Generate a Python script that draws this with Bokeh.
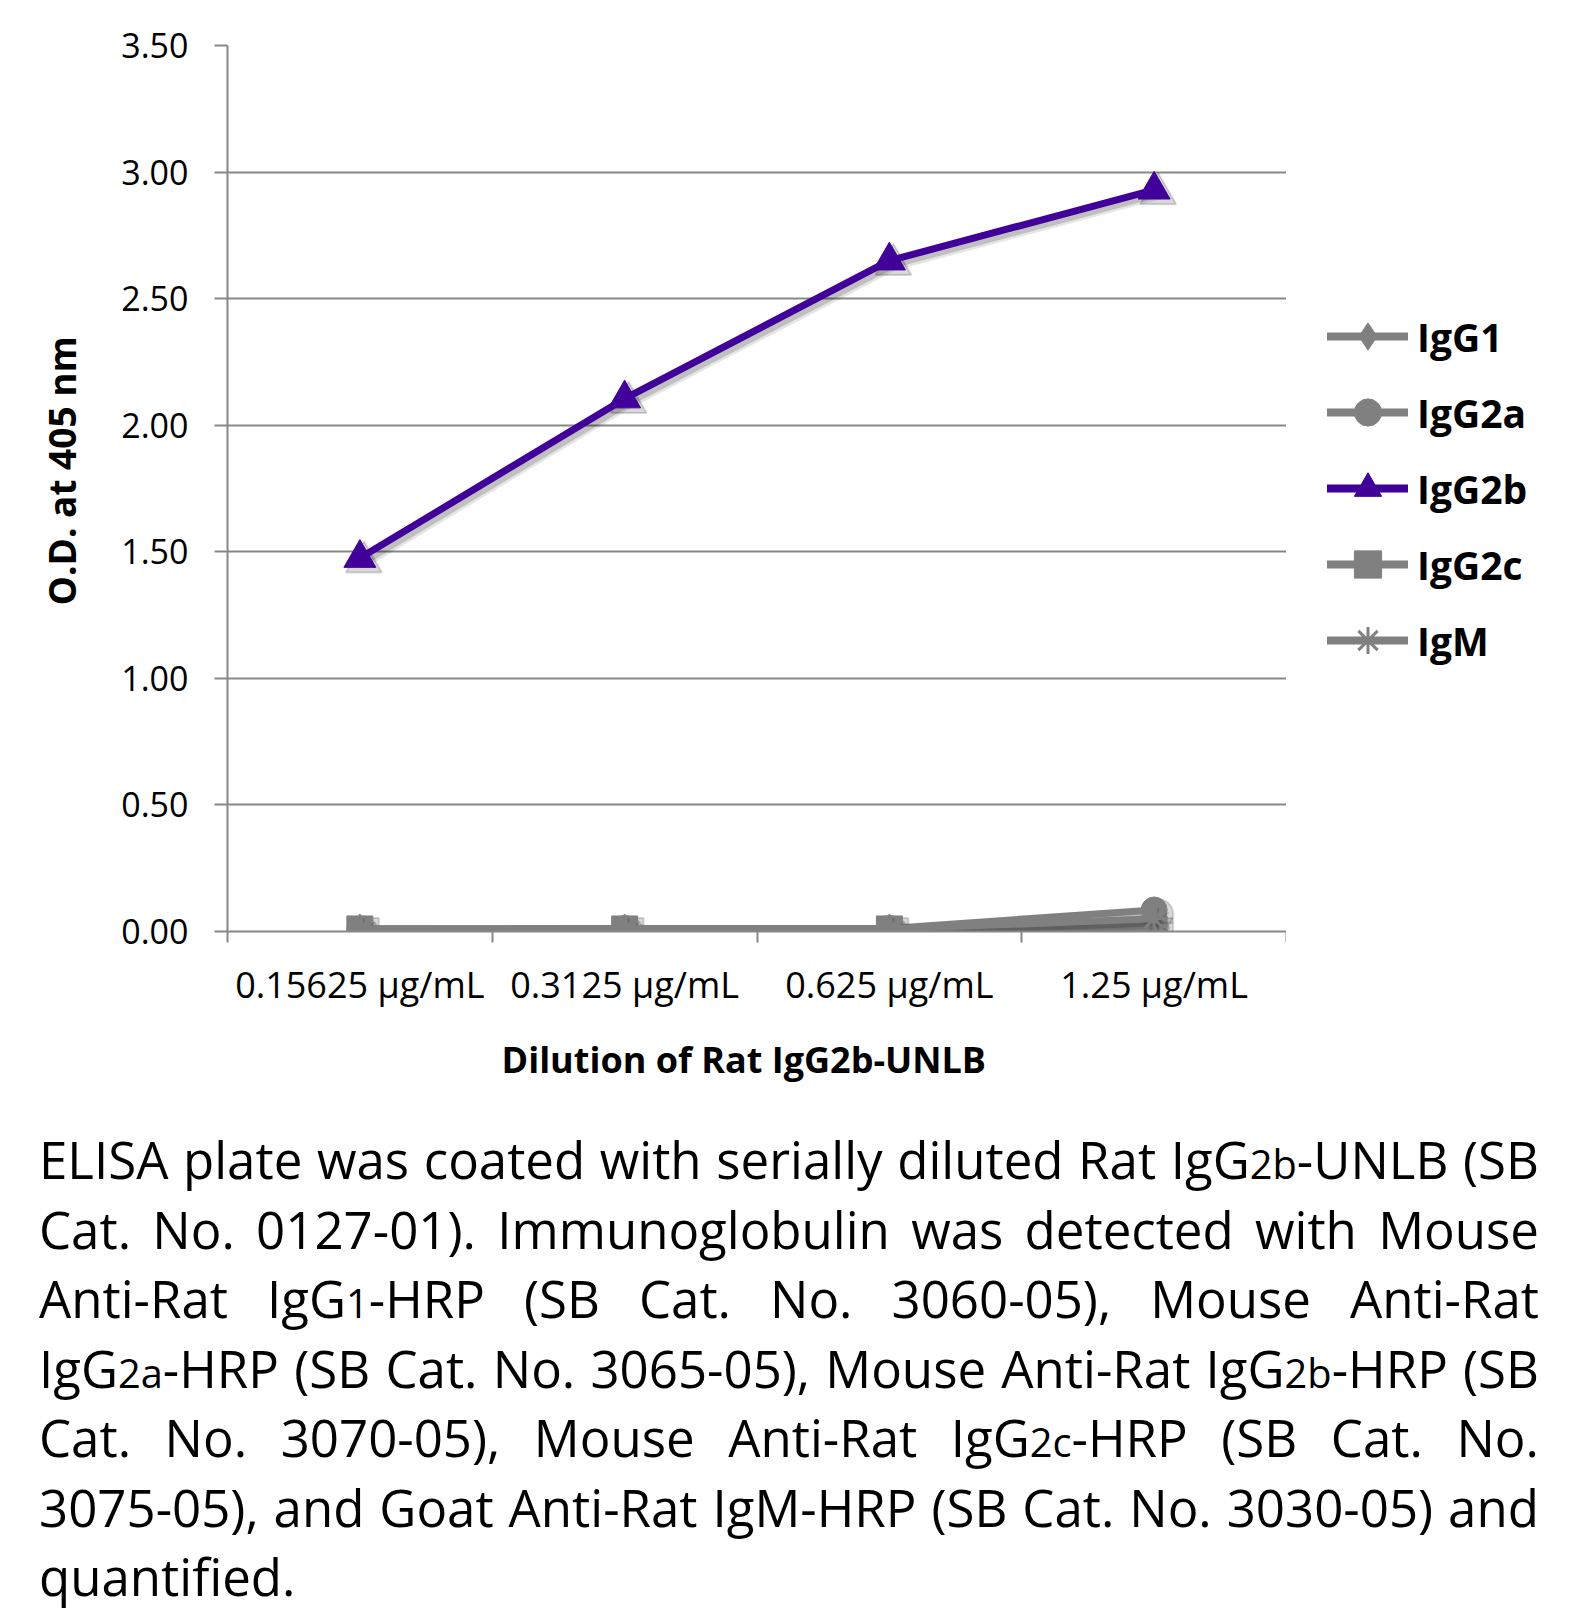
import re
import numpy as np
from bokeh.plotting import figure
from bokeh.models import (Range1d, FixedTicker, CustomJSTickFormatter, PrintfTickFormatter,
                          Legend, LegendItem, Div, Title)
from bokeh.layouts import column, row
from bokeh.embed import file_html
from bokeh.resources import INLINE

# ---------------- data ----------------
categories = ["0.15625 µg/mL", "0.3125 µg/mL", "0.625 µg/mL", "1.25 µg/mL"]
series_names = ["IgG1", "IgG2a", "IgG2b", "IgG2c", "IgM"]
igg1 = [0.010, 0.010, 0.010, 0.030]
igg2a = [0.010, 0.012, 0.012, 0.085]
igg2b = [1.475, 2.105, 2.650, 2.930]
igg2c = [0.010, 0.010, 0.010, 0.010]
igm = [0.010, 0.010, 0.010, 0.050]
y_ticks = [0.0, 0.5, 1.0, 1.5, 2.0, 2.5, 3.0, 3.5]

y_title = "O.D. at 405 nm"
x_title = "Dilution of Rat IgG2b-UNLB"
caption_lines = [
    "ELISA plate was coated with serially diluted Rat IgG[2b]-UNLB (SB",
    "Cat. No. 0127-01).  Immunoglobulin was detected with Mouse",
    "Anti-Rat IgG[1]-HRP (SB Cat. No. 3060-05), Mouse Anti-Rat",
    "IgG[2a]-HRP (SB Cat. No. 3065-05), Mouse Anti-Rat IgG[2b]-HRP (SB",
    "Cat. No. 3070-05), Mouse Anti-Rat IgG[2c]-HRP (SB Cat. No.",
    "3075-05), and Goat Anti-Rat IgM-HRP (SB Cat. No. 3030-05) and",
    "quantified.",
]

# ---------------- styles ----------------
GRAY = "#808080"
PURPLE = "#410099"
GRID = "#878787"
FONT = "Open Sans"

series_values = [igg1, igg2a, igg2b, igg2c, igm]
series_colors = [GRAY, GRAY, PURPLE, GRAY, GRAY]
series_markers = ["diamond", "circle", "triangle", "square", "asterisk"]
series_sizes = [30, 26, 32, 26, 26]

W, H = 1286, 1125
BL, BT, BB = 227, 45, 194
W2 = 301
frame_w = W - BL
frame_h = H - BT - BB

n = len(categories)
x = np.arange(n) + 0.5
ymax = y_ticks[-1]

p = figure(width=W, height=H, output_backend="svg", toolbar_location=None,
           x_range=Range1d(0, n), y_range=Range1d(0, ymax),
           min_border_left=BL, min_border_right=0, min_border_top=BT, min_border_bottom=BB)
p.outline_line_color = None
p.background_fill_color = "white"
p.border_fill_color = "white"

# shadow ranges (offset a few screen pixels down/right)
off = 4
dx = off * n / frame_w
dy = off * ymax / frame_h
p.extra_x_ranges = {"sx": Range1d(-dx, n - dx)}
p.extra_y_ranges = {"sy": Range1d(dy, ymax + dy)}

# legend panel figure
pl = figure(width=W2, height=H, output_backend="svg", toolbar_location=None,
            x_range=Range1d(0, 1), y_range=Range1d(0, 1), x_axis_type=None, y_axis_type=None,
            min_border_left=41, min_border_right=0, min_border_top=BT, min_border_bottom=BB)
pl.outline_line_color = None
pl.grid.visible = False
pl.background_fill_color = "white"
pl.border_fill_color = "white"

items = []
for name, vals, col, mk, sz in zip(series_names, series_values, series_colors, series_markers, series_sizes):
    p.line(x, vals, x_range_name="sx", y_range_name="sy", line_color="black",
           line_alpha=0.10, line_width=12, line_join="round", line_cap="round")
    p.line(x, vals, x_range_name="sx", y_range_name="sy", line_color="black",
           line_alpha=0.16, line_width=7, line_join="round", line_cap="round")
    p.scatter(x, vals, x_range_name="sx", y_range_name="sy", marker=mk, size=sz + 4,
              fill_color="black", fill_alpha=0.15, line_color="black", line_alpha=0.15, line_width=2)
    p.line(x, vals, line_color=col, line_width=7, line_join="round", line_cap="round")
    p.scatter(x, vals, marker=mk, size=sz, fill_color=col, line_color=col,
              line_width=3 if mk == "asterisk" else 1)
    # legend keys (same styles, no visible data)
    lr = pl.line([np.nan], [np.nan], line_color=col, line_width=8, line_cap="round")
    sr = pl.scatter([np.nan], [np.nan], marker=mk, size=sz, fill_color=col, line_color=col,
                    line_width=3 if mk == "asterisk" else 1)
    items.append(LegendItem(label=name, renderers=[lr, sr]))

legend = Legend(items=items, location="center_left", orientation="vertical",
                glyph_width=81, glyph_height=68, spacing=8, label_standoff=9,
                padding=42, margin=0, border_line_color=None, background_fill_alpha=0,
                label_text_font=FONT, label_text_font_style="bold",
                label_text_font_size="39px", label_text_color="black",
                label_height=40)
pl.add_layout(legend)

# grid
p.xgrid.visible = False
p.ygrid.ticker = FixedTicker(ticks=y_ticks)
p.ygrid.grid_line_color = GRID
p.ygrid.grid_line_width = 2

# y axis
ya = p.yaxis[0]
ya.ticker = FixedTicker(ticks=y_ticks)
ya.formatter = PrintfTickFormatter(format="%.2f")
ya.axis_line_color = GRID
ya.axis_line_width = 2
ya.major_tick_line_color = GRID
ya.major_tick_line_width = 2
ya.major_tick_out = 13
ya.major_tick_in = 0
ya.minor_tick_line_color = None
ya.major_label_standoff = 26
ya.major_label_text_font = FONT
ya.major_label_text_font_size = "34px"
ya.major_label_text_color = "black"

# x axis
xa = p.xaxis[0]
xa.ticker = FixedTicker(ticks=list(x), minor_ticks=list(np.arange(n + 1)))
xa.formatter = CustomJSTickFormatter(args=dict(cats=categories),
                                     code="const i = Math.floor(tick); return (i >= 0 && i < cats.length) ? cats[i] : '';")
xa.axis_line_color = GRID
xa.axis_line_width = 2
xa.major_tick_line_color = None
xa.major_tick_out = 0
xa.major_tick_in = 0
xa.minor_tick_line_color = GRID
xa.minor_tick_line_width = 2
xa.minor_tick_out = 11
xa.minor_tick_in = 0
xa.major_label_standoff = 17
xa.major_label_text_font = FONT
xa.major_label_text_font_size = "36px"
xa.major_label_text_color = "black"

# axis titles as side titles (placed like the original, slightly off-centre)
yt = Title(text=y_title, align="left", offset=326, standoff=64,
           text_font=FONT, text_font_style="bold", text_font_size="37px", text_color="black")
p.add_layout(yt, "left")
xt = Title(text=x_title, align="left", offset=274, standoff=42,
           text_font=FONT, text_font_style="bold", text_font_size="36px", text_color="black")
p.add_layout(xt, "below")

# ---------------- caption ----------------
def word_html(w):
    return re.sub(r"\[([^\]]+)\]", r'<span style="font-size:0.78em">\1</span>', w)

LH = 69.5
rows = []
for i, line in enumerate(caption_lines):
    words = [w for w in line.split(" ") if w]
    if i < len(caption_lines) - 1:
        spans = "".join(f"<span>{word_html(w)}</span>" for w in words)
        rows.append(f'<div style="display:flex;justify-content:space-between;align-items:baseline;'
                    f'white-space:nowrap;height:{LH}px;line-height:{LH}px">{spans}</div>')
    else:
        rows.append(f'<div style="white-space:nowrap;height:{LH}px;line-height:{LH}px">'
                    f'{word_html(line)}</div>')
html = (f'<div style="font-family:\'{FONT}\';font-size:51px;color:black;width:1500px">'
        + "".join(rows) + "</div>")
cap = Div(text=html, width=1500, height=int(LH * len(caption_lines)), margin=(0, 0, 0, 39))

layout = column(row(p, pl, spacing=0), cap, spacing=0)
open("out.html", "w").write(file_html(layout, INLINE))
